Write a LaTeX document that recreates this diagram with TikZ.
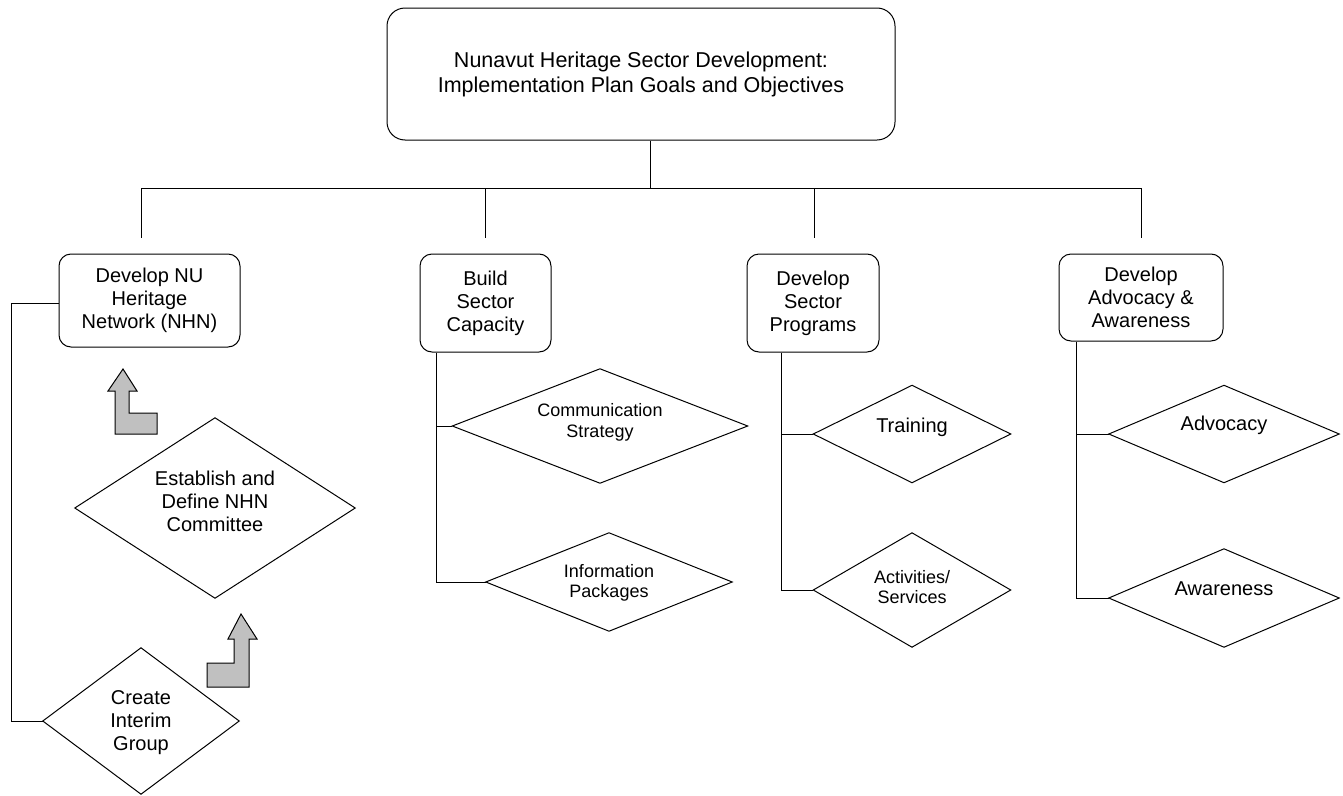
\documentclass[tikz,border=0pt]{standalone}
\usepackage{fontspec}
\setmainfont{Liberation Sans}
\definecolor{arrowgray}{RGB}{192,192,192}
\begin{document}
\begin{tikzpicture}[x=1pt,y=-1pt,
  ln/.style={line width=1pt, draw=black},
  box/.style={draw=black, line width=1pt, rounded corners=12pt, align=center, inner sep=0pt},
  diabox/.style={rectangle, inner sep=0pt},
  dia/.style={draw=black, line width=1pt},
  bent/.style={draw=black, fill=arrowgray, line width=1pt, line join=miter},
  ttl/.style={align=center, font=\fontsize{21.5}{25}\selectfont},
  t20/.style={align=center, font=\fontsize{20}{23}\selectfont},
  t18/.style={align=center, font=\fontsize{18}{20}\selectfont},
  t17/.style={align=center, font=\fontsize{18}{21}\selectfont}]
\useasboundingbox (0,0) rectangle (1343,795);

% title
\node[box, rounded corners=18pt, minimum width=508, minimum height=132, ttl] (title) at (641,74)
  {Nunavut Heritage Sector Development:\\Implementation Plan Goals and Objectives};

% level-2 boxes
\node[box, minimum width=181, minimum height=93, t20] (box1) at (149.5,300.5) {Develop NU\\Heritage\\Network (NHN)};
\node[box, minimum width=131, minimum height=98, t20] (box2) at (485.5,303) {Build\\Sector\\Capacity};
\node[box, minimum width=132, minimum height=98, t20] (box3) at (813,303) {Develop\\Sector\\Programs};
\node[box, minimum width=164, minimum height=87, t20] (box4) at (1141,297.5) {Develop\\Advocacy \&\\Awareness};

% diamonds: outline boxes
\node[diabox, minimum width=280, minimum height=180] (est) at (215,508) {};
\node[diabox, minimum width=196, minimum height=146] (create) at (141,721) {};
\node[diabox, minimum width=295, minimum height=114] (comm) at (600,426) {};
\node[diabox, minimum width=246, minimum height=98] (info) at (609,582) {};
\node[diabox, minimum width=197, minimum height=97] (train) at (912,434) {};
\node[diabox, minimum width=197, minimum height=114] (act) at (912,590) {};
\node[diabox, minimum width=230, minimum height=97] (adv) at (1224,434) {};
\node[diabox, minimum width=230, minimum height=98] (awa) at (1224,598) {};
\foreach \d in {est,create,comm,info,train,act,adv,awa}
  \draw[dia] (\d.west) -- (\d.north) -- (\d.east) -- (\d.south) -- cycle;

% diamond texts
\node[t20] (estT) at (215,501) {Establish and\\Define NHN\\Committee};
\node[t20] (createT) at (141,723) {Create\\Interim\\Group};
\node[t17] (commT) at (600,422.5) {Communication\\Strategy};
\node[t18] (infoT) at (609,582.5) {Information\\Packages};
\node[t20] (trainT) at (912,427) {Training};
\node[t18] (actT) at (912,587.5) {Activities/\\Services};
\node[t20] (advT) at (1224,425) {Advocacy};
\node[t20] (awaT) at (1224,589) {Awareness};

% tree connectors
\coordinate (top) at (650,188);
\coordinate (b1) at (141,188);
\coordinate (b4) at (1141,188);
\coordinate (d1) at (141,238);
\coordinate (d2) at (485,238);
\coordinate (d3) at (814,238);
\coordinate (d4) at (1141,238);
\draw[ln] (title.south -| top) -- (top);
\draw[ln] (b1) -- (b4);
\draw[ln] (d1 |- b1) -- (d1);
\draw[ln] (d2 |- b1) -- (d2);
\draw[ln] (d3 |- b1) -- (d3);
\draw[ln] (d4 |- b1) -- (d4);

% left column connector
\coordinate (L) at (11,303);
\draw[ln] (box1.west |- L) -- (L) |- (create.west);

% column connectors
\coordinate (v2) at (436,0);
\draw[ln] (box2.south -| v2) |- (info.west);
\draw[ln] (v2 |- comm.west) -- (comm.west);
\coordinate (v3) at (781,0);
\draw[ln] (box3.south -| v3) |- (act.west);
\draw[ln] (v3 |- train.west) -- (train.west);
\coordinate (v4) at (1076,0);
\draw[ln] (box4.south -| v4) |- (awa.west);
\draw[ln] (v4 |- adv.west) -- (adv.west);

% bent arrows
\draw[bent] (123,369) -- (137,391) -- (129,391) -- (129,413) -- (157,413) -- (157,434)
  -- (115,434) -- (115,391) -- (108,391) -- cycle;
\draw[bent] (241,614) -- (257,639) -- (249,639) -- (249,687) -- (207,687) -- (207,663)
  -- (234,663) -- (234,639) -- (228,639) -- cycle;
\end{tikzpicture}
\end{document}
